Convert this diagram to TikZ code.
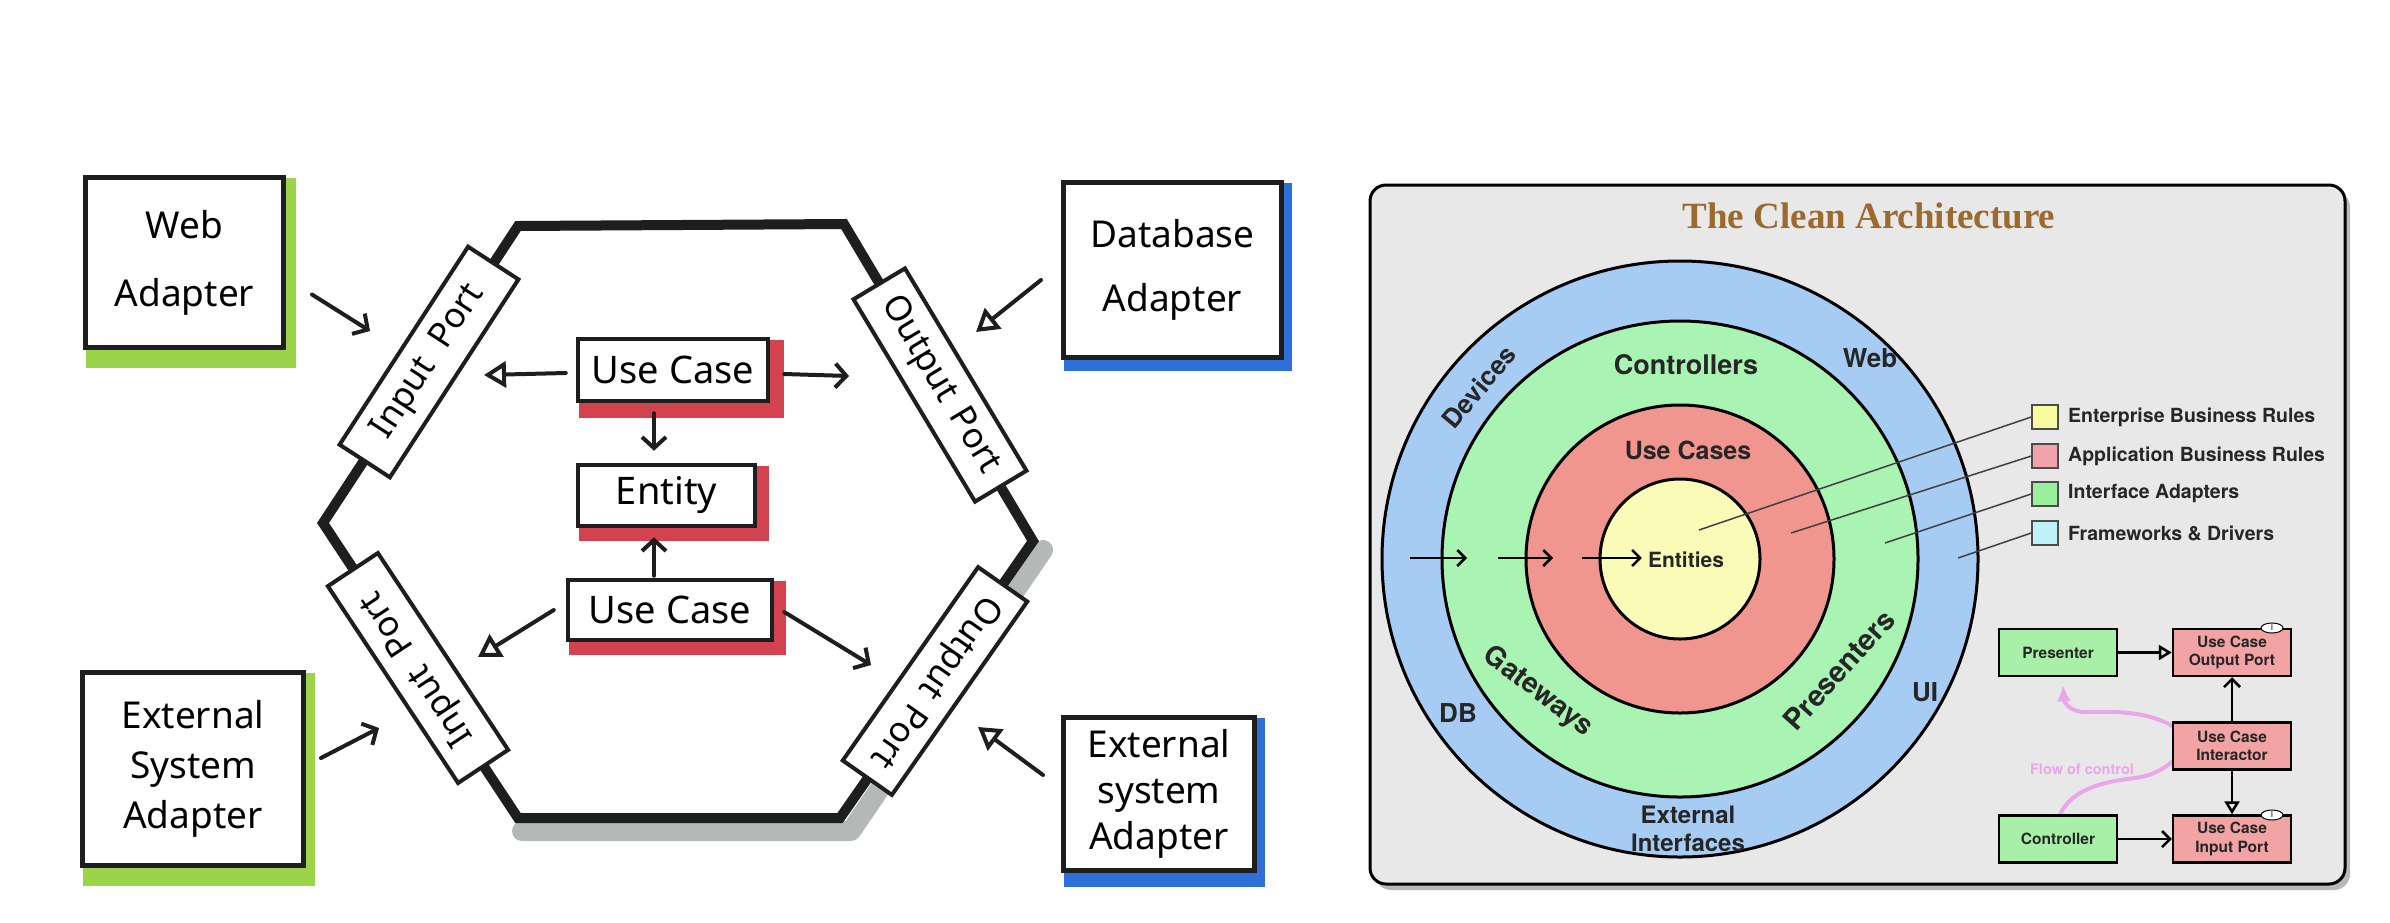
\documentclass[tikz,border=0pt]{standalone}
\usepackage{fontspec}
\usetikzlibrary{arrows.meta,shapes.geometric}
\newfontfamily\handfont{Noto Sans}
\newfontfamily\helv{TeX Gyre Heros}
\newfontfamily\titlefont{Liberation Serif}
\definecolor{hgreen}{HTML}{9BD44A}
\definecolor{hblue}{HTML}{2E6FD8}
\definecolor{hred}{HTML}{D2434F}
\definecolor{hshade}{HTML}{B4B8B6}
\definecolor{cablue}{HTML}{A7CCF3}
\definecolor{cagreen}{HTML}{A9F3B3}
\definecolor{cared}{HTML}{F0968F}
\definecolor{cayellow}{HTML}{FBFBB8}
\definecolor{capanel}{HTML}{E8E8E8}
\definecolor{catitle}{HTML}{9A6A2E}
\definecolor{lgyellow}{HTML}{FAFAA0}
\definecolor{lgred}{HTML}{F2A2AA}
\definecolor{lggreen}{HTML}{9AF09A}
\definecolor{lgcyan}{HTML}{BDF2F8}
\definecolor{sgreen}{HTML}{A8F0A8}
\definecolor{sred}{HTML}{F2A3A3}
\definecolor{flowpink}{HTML}{E9A6E9}
\definecolor{inkc}{HTML}{1E1E1E}
\pgfdeclarelayer{front}
\pgfsetlayers{main,front}
\begin{document}
\begin{tikzpicture}[x=1pt,y=-1pt,
  adapter/.style={draw=inkc,line width=5pt,fill=white,inner sep=0pt,align=center,
    font=\handfont\fontsize{37}{44}\selectfont},
  inbox/.style={draw=inkc,line width=4.5pt,fill=white,inner sep=0pt,
    font=\handfont\fontsize{38}{44}\selectfont},
  portbox/.style={draw=inkc,line width=4pt,fill=white,inner sep=0pt,
    minimum width=236pt,minimum height=60pt,font=\handfont\fontsize{35}{40}\selectfont},
  harrow/.style={draw=inkc,line width=4pt,line cap=round,-{Straight Barb[length=11pt,width=24pt]}},
  tarrow/.style={draw=inkc,line width=4pt,line cap=round,-{Triangle[open,length=22pt,width=26pt]}},
  ring/.style={draw=black,line width=3pt,inner sep=0pt},
  calabel/.style={font=\helv\bfseries\fontsize{26}{28}\selectfont,text=black!85,inner sep=0pt},
  lgbox/.style={draw=black!70,line width=1.5pt,minimum width=26pt,minimum height=24pt,inner sep=0pt},
  lgtext/.style={font=\helv\bfseries\fontsize{19.5}{22}\selectfont,text=black!85,anchor=west,inner sep=0pt},
  legline/.style={draw=black!75,line width=1.5pt},
  sbox/.style={draw=black,line width=2.5pt,minimum width=118pt,minimum height=47pt,inner sep=0pt,
    align=center,font=\helv\bfseries\fontsize{15.5}{18.5}\selectfont,text=black!85},
  sarrow/.style={draw=black,line width=2.5pt,-{Straight Barb[length=8pt,width=16pt]}},
  starrow/.style={draw=black,line width=2.5pt,-{Triangle[open,length=13pt,width=15pt]}},
  iface/.style={ellipse,draw=black,line width=1pt,fill=white,minimum width=22pt,minimum height=10pt,inner sep=0pt,
    font=\helv\fontsize{8}{8}\selectfont}
]
\useasboundingbox (0,0) rectangle (2390,922);
\fill[white] (0,0) rectangle (2390,922);

% ================= hexagonal architecture =================
\draw[hshade,line width=20pt,line join=round,line cap=round] (1043,550) -- (851,831) -- (522,831);
\draw[inkc,line width=10pt,line join=miter] (518,226) -- (844,224) -- (1033,541) -- (840,818) -- (518,818) -- (323,523) -- cycle;

% coloured shadows of the boxes
\fill[hgreen] (86,178) rectangle (296,368);
\fill[hgreen] (83,673) rectangle (315,886);
\fill[hblue] (1064,183) rectangle (1292,371);
\fill[hblue] (1064,718) rectangle (1265,887);
\fill[hred] (579,340) rectangle (784,418);
\fill[hred] (579,466) rectangle (769,541);
\fill[hred] (569,581) rectangle (786,655);

% adapters
\node[adapter,minimum width=198pt,minimum height=170pt] (web) at (184.5,262.5) {Web\\[24pt]Adapter};
\node[adapter,minimum width=221pt,minimum height=193pt] (extL) at (193,769) {External\\[6pt]System\\[6pt]Adapter};
\node[adapter,minimum width=218pt,minimum height=175pt] (db) at (1172.5,270) {Database\\[20pt]Adapter};
\node[adapter,minimum width=191pt,minimum height=153pt] (extR) at (1159,794) {External\\[2pt]system\\[2pt]Adapter};

% ports
\node[portbox,rotate=57] (ip1) at (429,362) {Input\hspace{18pt}Port};
\node[portbox,rotate=-59] (op1) at (940,385) {Output\hspace{14pt}Port};
\node[portbox,rotate=123.5] (ip2) at (418,668) {Input\hspace{18pt}Port};
\node[portbox,rotate=235] (op2) at (935,681) {Output\hspace{14pt}Port};

% core
\node[inbox,minimum width=190pt,minimum height=62pt] (uc1) at (673,370) {Use Case};
\node[inbox,minimum width=177pt,minimum height=61pt] (ent) at (666.5,495.5) {Entity};
\node[inbox,minimum width=204pt,minimum height=60pt] (uc2) at (670,610) {Use Case};

% arrows
\draw[harrow] ([shift={(26,32)}]web.east) -- ([shift={(-59,-31)}]ip1.center);
\draw[harrow] ([shift={(15,-11)}]extL.east) -- ([shift={(-39,60)}]ip2.center);
\draw[tarrow] ([shift={(-20,10)}]db.west) -- ([shift={(36,-53)}]op1.center);
\draw[tarrow] ([shift={(-18,-19)}]extR.west) -- ([shift={(43,46)}]op2.center);
\draw[tarrow] ([shift={(-10,3)}]uc1.west) -- ([shift={(55,13)}]ip1.center);
\draw[harrow] ([shift={(14,4)}]uc1.east) -- ([shift={(-91,-9)}]op1.center);
\draw[harrow] ([shift={(-19,10)}]uc1.south) -- ([shift={(-12.5,-12)}]ent.north);
\draw[harrow] ([shift={(-16,-2)}]uc2.north) -- ([shift={(-12.5,9)}]ent.south);
\draw[tarrow] ([shift={(-12,0)}]uc2.west) -- ([shift={(60,-11)}]ip2.center);
\draw[harrow] ([shift={(10,2)}]uc2.east) -- ([shift={(-64,-16)}]op2.center);

% ================= the clean architecture =================
\fill[black!28,rounded corners=16pt] (1375,191) rectangle (2350,890);
\draw[black,line width=3pt,fill=capanel,rounded corners=16pt] (1370,185) rectangle (2345,884);
\node[font=\titlefont\bfseries\fontsize{37}{40}\selectfont,text=catitle,inner sep=0pt] (title) at (1869,216) {The Clean Architecture};

\node[circle,ring,fill=cablue,minimum size=596pt] (fw) at (1680,559) {};
\node[circle,ring,fill=cagreen,minimum size=476pt] (ia) at (1680,559) {};
\node[circle,ring,fill=cared,minimum size=308pt] (ab) at (1680,559) {};
\node[circle,ring,fill=cayellow,minimum size=160pt] (eb) at (1680,559) {};

\node[calabel,rotate=50] (devices) at (1479,387) {Devices};
\node[calabel] (webl) at (1870,358) {Web};
\node[calabel,font=\helv\bfseries\fontsize{27}{29}\selectfont] (ctrls) at (1686,365) {Controllers};
\node[calabel,font=\helv\bfseries\fontsize{25}{27}\selectfont] (ucs) at (1688,450) {Use Cases};
\node[calabel,font=\helv\bfseries\fontsize{21}{23}\selectfont] (ents) at (1686,560) {Entities};
\node[calabel,font=\helv\bfseries\fontsize{28}{30}\selectfont,rotate=-37] (gw) at (1538,692) {Gateways};
\node[calabel,font=\helv\bfseries\fontsize{29}{31}\selectfont,rotate=48] (presl) at (1839,670) {Presenters};
\node[calabel] (dbl) at (1458,713) {DB};
\node[calabel] (uil) at (1925,692) {UI};
\node[calabel,font=\helv\bfseries\fontsize{24}{28}\selectfont,align=center] (extif) at (1688,829) {External\\Interfaces};

\coordinate (a1) at (1410,558); \coordinate (a1e) at (1467,558);
\coordinate (a2) at (1498,558); \coordinate (a2e) at (1553,558);
\coordinate (a3) at (1582,558);
\draw[sarrow] (a1) -- (a1e);
\draw[sarrow] (a2) -- (a2e);
\draw[sarrow,shorten >=6pt] (a3) -- (ents.west |- a3);

% legend
\node[lgbox,fill=lgyellow] (lg1) at (2045,417) {};
\node[lgbox,fill=lgred] (lg2) at (2045,456) {};
\node[lgbox,fill=lggreen] (lg3) at (2045,494) {};
\node[lgbox,fill=lgcyan] (lg4) at (2045,533) {};
\node[lgtext] (lt1) at (2068,417) {Enterprise Business Rules};
\node[lgtext] (lt2) at (2068,456) {Application Business Rules};
\node[lgtext] (lt3) at (2068,494) {Interface Adapters};
\node[lgtext] (lt4) at (2068,533) {Frameworks \& Drivers};
\coordinate (p1) at (1699,530);
\coordinate (p2) at (1791,533);
\coordinate (p3) at (1885,543);
\coordinate (p4) at (1958,558);
\draw[legline] (p1) -- (lg1.west);
\draw[legline] (p2) -- (lg2.west);
\draw[legline] (p3) -- (lg3.west);
\draw[legline] (p4) -- (lg4.west);

% small flow diagram
\begin{pgfonlayer}{front}
\node[sbox,fill=sgreen] (pres) at (2058,652.5) {Presenter};
\node[sbox,fill=sred] (uop) at (2232,652.5) {Use Case\\Output Port};
\node[sbox,fill=sred] (uci) at (2232,746) {Use Case\\Interactor};
\node[sbox,fill=sgreen] (ctl) at (2058,839) {Controller};
\node[sbox,fill=sred] (uip) at (2232,839) {Use Case\\Input Port};
\node[iface] (if1) at (2272,628) {I};
\node[iface] (if2) at (2272,815) {I};
\draw[starrow] (pres.east) -- (uop.west);
\draw[sarrow] (uci.north) -- (uop.south);
\draw[starrow] (uci.south) -- (uip.north);
\draw[sarrow] (ctl.east) -- (uip.west);
\end{pgfonlayer}
\draw[flowpink,line width=4pt,-{Latex[length=16pt,width=14pt]}]
  ([xshift=2pt]ctl.north) .. controls (2072,790) and (2100,782) .. (2135,778)
  .. controls (2160,775) and (2178,760) .. (2190,740)
  .. controls (2160,708) and (2112,712) .. (2085,712)
  .. controls (2070,712) and (2064,702) .. ([shift={(5,8)}]pres.south);
\node[font=\helv\bfseries\fontsize{14.5}{16}\selectfont,text=flowpink,inner sep=0pt] (flowl) at (2082,769) {Flow of control};
\end{tikzpicture}
\end{document}
